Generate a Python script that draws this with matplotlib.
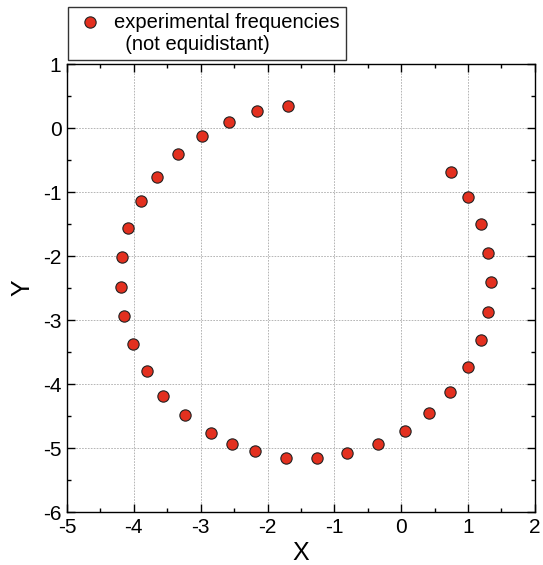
import numpy as np
import matplotlib.pyplot as plt
from matplotlib.ticker import MultipleLocator

plt.rcParams['font.family'] = ['Liberation Sans', 'DejaVu Sans']
plt.rcParams['axes.unicode_minus'] = False

# measured points (x, y), going round the circle
x = [-1.69, -2.15, -2.58, -2.98, -3.34, -3.66, -3.89, -4.08, -4.18,
     -4.19, -4.15, -4.01, -3.81, -3.56, -3.23, -2.85, -2.53, -2.18,
     -1.73, -1.26, -0.81, -0.35, 0.05, 0.42, 0.73,
     1.00, 1.19, 1.30, 1.35, 1.30, 1.19, 1.00, 0.74]
y = [0.34, 0.26, 0.10, -0.13, -0.41, -0.76, -1.14, -1.57, -2.01,
     -2.48, -2.93, -3.38, -3.79, -4.18, -4.49, -4.77, -4.93, -5.05,
     -5.15, -5.15, -5.08, -4.94, -4.74, -4.45, -4.12,
     -3.74, -3.32, -2.87, -2.41, -1.95, -1.50, -1.08, -0.69]

fig = plt.figure(figsize=(5.43, 5.65), dpi=100)
ax = fig.add_axes([0.1234, 0.0938, 0.8616, 0.7929])

ax.scatter(x, y, s=66, c='#e3301f', edgecolors='#222222', linewidths=0.8,
           zorder=3, label='experimental frequencies\n  (not equidistant)')

ax.set_xlim(-5, 2)
ax.set_ylim(-6, 1)
ax.xaxis.set_major_locator(MultipleLocator(1))
ax.yaxis.set_major_locator(MultipleLocator(1))
ax.xaxis.set_minor_locator(MultipleLocator(0.5))
ax.yaxis.set_minor_locator(MultipleLocator(0.5))
ax.tick_params(which='both', direction='in', top=True, right=True,
               labelsize=15, width=1)
ax.tick_params(which='major', length=6, pad=4)
ax.tick_params(which='minor', length=3)
for s in ax.spines.values():
    s.set_linewidth(1)
ax.grid(True, which='major', color='#aaaaaa', linestyle=(0, (2, 1.5)),
        linewidth=0.6)

ax.set_xlabel('X', fontsize=18, labelpad=3)
ax.set_ylabel('Y', fontsize=18, labelpad=6)

fig.legend(loc='upper left', bbox_to_anchor=(0.125, 0.988), fontsize=14.5,
           frameon=True, fancybox=False, edgecolor='black',
           handletextpad=0.4, borderpad=0.3, borderaxespad=0,
           handlelength=1.6, labelspacing=0.2, scatteryoffsets=[1.3])

fig.savefig('out.png', dpi=100)
